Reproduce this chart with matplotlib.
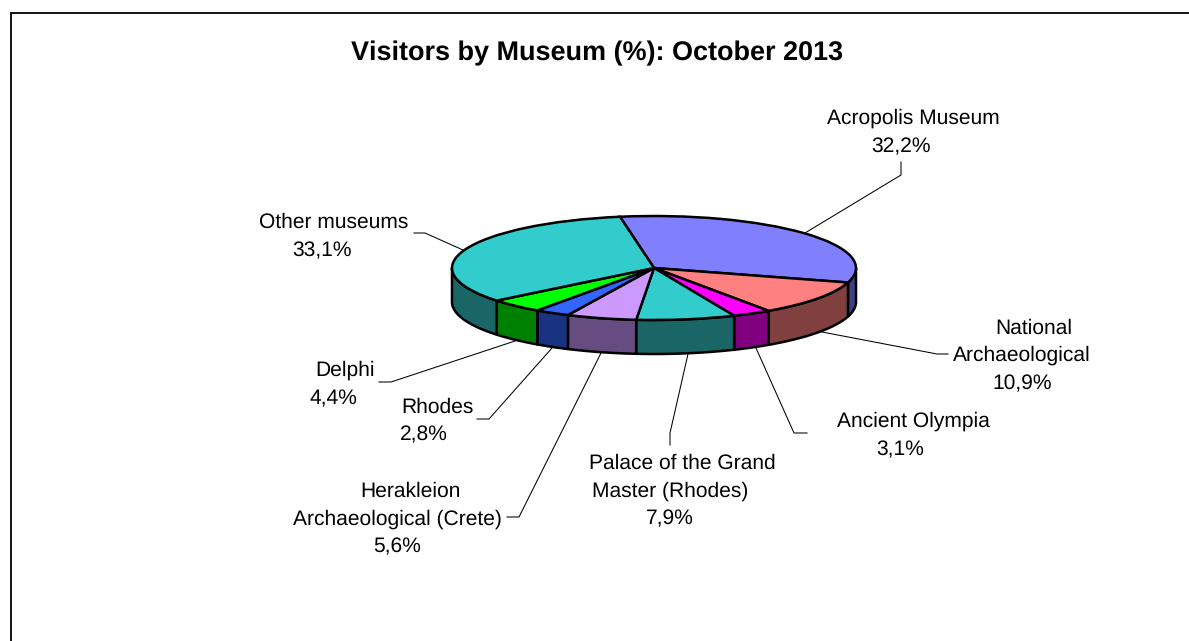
import numpy as np
import matplotlib
matplotlib.use("Agg")
import matplotlib.pyplot as plt

plt.rcParams['font.family'] = ['Liberation Sans', 'DejaVu Sans']
plt.rcParams['text.hinting'] = 'no_hinting'
plt.rcParams['text.hinting_factor'] = 1

# Data, clockwise from the Acropolis slice
museums = ["Acropolis Museum", "National Archaeological", "Ancient Olympia",
           "Palace of the Grand Master (Rhodes)", "Herakleion Archaeological (Crete)",
           "Rhodes", "Delphi", "Other museums"]
shares = [32.2, 10.9, 3.1, 7.9, 5.6, 2.8, 4.4, 33.1]
top_colors = ["#8080FF", "#FF8080", "#FF00FF", "#33CCCC",
              "#CC99FF", "#3366FF", "#00FF00", "#33CCCC"]
side_colors = ["#404080", "#804040", "#800080", "#1A6666",
               "#664C80", "#1A3380", "#008000", "#1A6666"]
title = "Visitors by Museum (%): October 2013"

W, H = 1189, 641
# pie geometry, in pixels
cx, cy, rx, ry, depth = 654, 268, 202, 52, 34
start_angle = 99.7

# text lines: (string, centre x, baseline y)
label_lines = [
    ("Acropolis Museum", 913, 124), ("32,2%", 901, 152),
    ("National", 1034, 334), ("Archaeological", 1022, 361), ("10,9%", 1022, 389),
    ("Ancient Olympia", 913, 427), ("3,1%", 900, 455),
    ("Palace of the Grand", 682, 469), ("Master (Rhodes)", 670, 497), ("7,9%", 670, 524),
    ("Herakleion", 410, 497), ("Archaeological (Crete)", 397, 525), ("5,6%", 397, 552),
    ("Rhodes", 437, 413), ("2,8%", 424, 440),
    ("Delphi", 345, 376), ("4,4%", 333, 404),
    ("Other museums", 334, 228), ("33,1%", 322, 256),
]

# leader lines, pixel positions
leaders = [
    [(805, 233), (901, 175), (901, 162)],
    [(822, 332), (937, 354), (948, 354)],
    [(756, 348), (794, 433), (807, 433)],
    [(688, 354), (670, 433), (670, 445)],
    [(601, 353), (519, 517), (507, 517)],
    [(552, 348), (489, 419), (477, 419)],
    [(515, 341), (391, 382), (379, 382)],
    [(463, 250), (425, 233), (414, 233)],
]

fig = plt.figure(figsize=(W / 100, H / 100), dpi=100, facecolor="white")

# pie axes: unit circle squashed by the axis limits
ax = fig.add_axes([0, 0, 1, 1])
wall = depth / ry
edges = np.cumsum([0] + shares) / sum(shares) * 360 + (90 - start_angle)
for i in range(len(shares)):
    # clockwise from 12 o'clock, only the front half of the disc has a wall
    a = max(edges[i], 90)
    b = min(edges[i + 1], 270)
    if b <= a:
        continue
    t = np.radians(90 - np.linspace(a, b, 80))
    xs = np.r_[np.cos(t), np.cos(t)[::-1]]
    ys = np.r_[np.sin(t), np.sin(t)[::-1] - wall]
    ax.fill(xs, ys, facecolor=side_colors[i], edgecolor="black", linewidth=1.8,
            joinstyle="round", zorder=1)

ax.pie(shares, colors=top_colors, startangle=start_angle, counterclock=False,
       wedgeprops={"edgecolor": "black", "linewidth": 1.8, "zorder": 2})
ax.set_aspect("auto")
ax.set_xlim(-cx / rx, (W - cx) / rx)
ax.set_ylim((cy - H) / ry, cy / ry)
ax.axis("off")

# overlay in pixel coordinates for the text, leaders and frame
over = fig.add_axes([0, 0, 1, 1])
over.set_xlim(0, W)
over.set_ylim(H, 0)
over.axis("off")
over.patch.set_alpha(0)

over.plot([10.5, 10.5, W], [H, 13, 13], color="black", linewidth=1.3, solid_joinstyle="miter")

for pts in leaders:
    px, py = zip(*pts)
    over.plot(px, py, color="black", linewidth=0.75)

for text, x, y in label_lines:
    over.text(x, y, text, ha="center", va="baseline", fontsize=15.4, color="black")

over.text(597, 60, title, ha="center", va="baseline", fontsize=19.6, fontweight="bold")

fig.savefig("out.png", dpi=100)
